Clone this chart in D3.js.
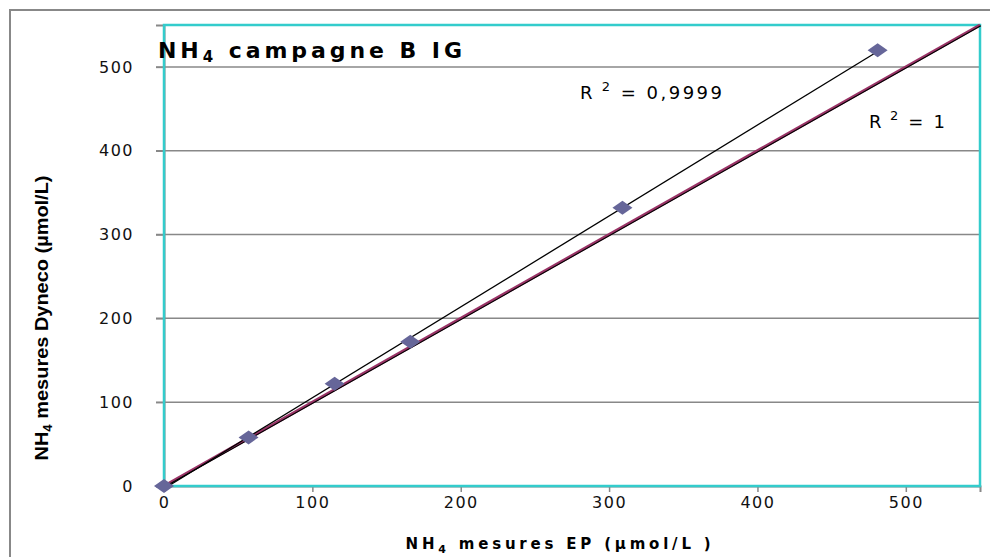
<!DOCTYPE html>
<html>
<head>
<meta charset="utf-8">
<script src="https://cdn.jsdelivr.net/npm/d3@7"></script>
<style>
  html, body { margin: 0; padding: 0; background: #fff; }
  svg { display: block; }
</style>
</head>
<body>
<div id="chart"></div>
<script>
// Données
const mesuresEP     = [0, 57, 115, 166, 309, 481];
const mesuresDyneco = [0, 58, 122, 172, 332, 520];
const ligne11       = [0, 550];
const xTicks = [0, 100, 200, 300, 400, 500];
const yTicks = [0, 100, 200, 300, 400, 500];
const r2Labels = ['0,9999', '1'];

const W = 990, H = 557;
const m = { left: 164, right: 10, top: 25, bottom: 71 };
const FONT = '"DejaVu Sans", Verdana, sans-serif';

const svg = d3.select('#chart').append('svg')
    .attr('width', W).attr('height', H)
    .style('font-family', FONT);

// cadre extérieur
svg.append('rect')
    .attr('x', 10).attr('y', 10)
    .attr('width', W).attr('height', H)
    .attr('fill', 'none').attr('stroke', '#888').attr('stroke-width', 2);

const x = d3.scaleLinear().domain([0, 550]).range([m.left, W - m.right]);
const y = d3.scaleLinear().domain([0, 550]).range([H - m.bottom, m.top]);

// grille horizontale + graduations
svg.append('g')
    .selectAll('line')
    .data(yTicks.filter(d => d > 0))
    .join('line')
    .attr('x1', x(0) - 8).attr('x2', x(550))
    .attr('y1', d => y(d)).attr('y2', d => y(d))
    .attr('stroke', '#888').attr('stroke-width', 1.5);

const yAxis = svg.append('g')
    .attr('transform', `translate(${x(0)},0)`)
    .call(d3.axisLeft(y).tickValues(yTicks).tickSize(8).tickPadding(22));
yAxis.select('.domain').attr('stroke', '#888').attr('stroke-width', 2);
yAxis.selectAll('.tick line').attr('stroke', '#888').attr('stroke-width', 1.5);
yAxis.selectAll('.tick text')
    .attr('font-size', 16).attr('fill', '#111')
    .attr('font-family', FONT)
    .style('letter-spacing', '1.5px');

const xAxis = svg.append('g')
    .attr('transform', `translate(0,${y(0)})`)
    .call(d3.axisBottom(x).tickValues(xTicks).tickSize(6).tickPadding(5));
xAxis.select('.domain').attr('stroke', '#888').attr('stroke-width', 2);
xAxis.selectAll('.tick line').attr('stroke', '#888').attr('stroke-width', 1.5);
xAxis.selectAll('.tick text')
    .attr('font-size', 16).attr('fill', '#111')
    .attr('font-family', FONT)
    .style('letter-spacing', '1.5px');

// bordure de la zone de tracé (cyan)
svg.append('rect')
    .attr('x', x(0)).attr('y', y(550))
    .attr('width', x(550) - x(0)).attr('height', y(0) - y(550))
    .attr('fill', 'none').attr('stroke', '#33CCCC').attr('stroke-width', 2.5);

// ligne 1:1 (bordeaux) + sa tendance (noire)
const line = d3.line().x(d => x(d[0])).y(d => y(d[1]));
const pts11 = ligne11.map(v => [v, v]);
svg.append('path').attr('d', line(pts11))
    .attr('fill', 'none').attr('stroke', '#993366').attr('stroke-width', 3);
svg.append('path').attr('d', line(pts11))
    .attr('transform', 'translate(0.8,0.8)')
    .attr('fill', 'none').attr('stroke', '#000').attr('stroke-width', 1.1);

// régression linéaire sur les mesures
const mx = d3.mean(mesuresEP), my = d3.mean(mesuresDyneco);
const slope = d3.sum(mesuresEP, (v, i) => (v - mx) * (mesuresDyneco[i] - my)) /
              d3.sum(mesuresEP, v => (v - mx) ** 2);
const icpt = my - slope * mx;
const xr = d3.extent(mesuresEP);
svg.append('path')
    .attr('d', line(xr.map(v => [v, icpt + slope * v])))
    .attr('fill', 'none').attr('stroke', '#000').attr('stroke-width', 1.3);

// points (losanges)
svg.append('g')
    .selectAll('path')
    .data(mesuresEP.map((v, i) => [v, mesuresDyneco[i]]))
    .join('path')
    .attr('transform', d => `translate(${x(d[0])},${y(d[1])})`)
    .attr('d', 'M-10,0L0,-7L10,0L0,7Z')
    .attr('fill', '#666699');

// titre (chevauche légèrement la bordure, comme l'original)
const title = svg.append('text')
    .attr('x', 158).attr('y', 58)
    .attr('font-size', 22).attr('font-weight', 'bold')
    .attr('textLength', 304).attr('lengthAdjust', 'spacing')
    .attr('fill', '#000');
title.append('tspan').text('NH');
title.append('tspan').attr('dy', 4).attr('font-size', 15).text('4');
title.append('tspan').attr('dy', -4).text(' campagne B IG');

// R²
function r2(xp, yp, val, len) {
    const t = svg.append('text')
        .attr('x', xp).attr('y', yp)
        .attr('font-size', 18).attr('fill', '#000')
        .attr('textLength', len).attr('lengthAdjust', 'spacing');
    t.append('tspan').text('R');
    t.append('tspan').attr('dy', -8).attr('font-size', 13).text(' 2');
    t.append('tspan').attr('dy', 8).text(' = ' + val);
}
r2(580, 99, r2Labels[0], 142);
r2(869, 128, r2Labels[1], 76);

// titres des axes
const xl = svg.append('text')
    .attr('x', 560).attr('y', 549)
    .attr('text-anchor', 'middle')
    .attr('font-size', 15).attr('font-weight', 'bold')
    .style('letter-spacing', '3.8px');
xl.append('tspan').text('NH');
xl.append('tspan').attr('dy', 4).attr('font-size', 11).text('4');
xl.append('tspan').attr('dy', -4).text(' mesures EP  (µmol/L )');

const yl = svg.append('text')
    .attr('transform', 'translate(48,318) rotate(-90)')
    .attr('text-anchor', 'middle')
    .attr('font-family', '"Liberation Sans Narrow", "Arial Narrow", sans-serif')
    .attr('font-size', 18).attr('font-weight', 'bold')
    .attr('textLength', 285).attr('lengthAdjust', 'spacingAndGlyphs');
yl.append('tspan').text('NH');
yl.append('tspan').attr('dy', 4).attr('font-size', 12).text('4');
yl.append('tspan').attr('dy', -4).text(' mesures Dyneco (µmol/L)');
</script>
</body>
</html>
